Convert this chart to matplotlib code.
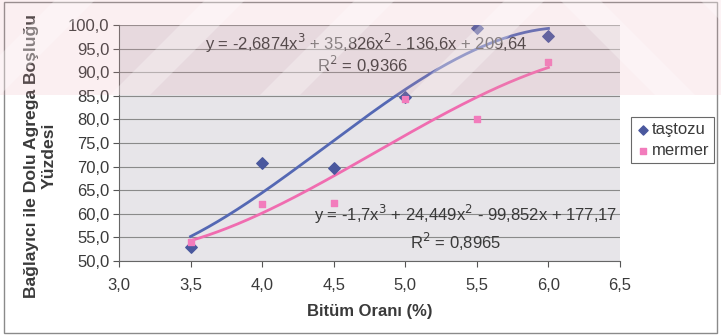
import numpy as np
import matplotlib
matplotlib.use("Agg")
import matplotlib.pyplot as plt
from matplotlib.patches import Polygon, Rectangle

plt.rcParams['font.family'] = ['Liberation Sans', 'DejaVu Sans']

# Measured values
bitum = [3.5, 4.0, 4.5, 5.0, 5.5, 6.0]
tastozu = [53.0, 70.8, 69.8, 84.7, 99.4, 97.7]
mermer = [54.1, 62.1, 62.2, 84.3, 80.1, 92.2]

# Cubic trend line coefficients (highest power first)
coef_tastozu = [-2.6874, 35.826, -136.6, 209.64]
coef_mermer = [-1.7, 24.449, -99.852, 177.17]
eq_tastozu = "y = -2,6874x$^3$ + 35,826x$^2$ - 136,6x + 209,64"
r2_tastozu = "R$^2$ = 0,9366"
eq_mermer = "y = -1,7x$^3$ + 24,449x$^2$ - 99,852x + 177,17"
r2_mermer = "R$^2$ = 0,8965"

x_ticks = [3.0, 3.5, 4.0, 4.5, 5.0, 5.5, 6.0, 6.5]
y_ticks = [50, 55, 60, 65, 70, 75, 80, 85, 90, 95, 100]

blue = '#5468b4'
blue_mk = '#4a589e'
pink = '#f06cb0'
pink_mk = '#f27cbc'
txt = '#3a3a3a'
fs = 12

fig = plt.figure(figsize=(7.21, 3.35), dpi=100)
fig.patch.set_facecolor('white')

ax = fig.add_axes([0.165, 0.221, 0.695, 0.704])
ax.set_facecolor('#e7e5e9')

ax.set_xlim(3.0, 6.5)
ax.set_ylim(50, 100)
ax.set_xticks(x_ticks)
ax.set_yticks(y_ticks)
ax.set_xticklabels([f"{v:.1f}".replace('.', ',') for v in x_ticks])
ax.set_yticklabels([f"{v:.1f}".replace('.', ',') for v in y_ticks])
ax.tick_params(axis='both', colors='#555555', labelcolor=txt, labelsize=fs,
               length=4, width=0.8, direction='out')
ax.tick_params(axis='x', pad=8)
ax.tick_params(axis='y', pad=3)
ax.grid(axis='y', color='#8a8a8a', linewidth=0.8)
ax.set_axisbelow(True)
for side in ['top', 'right']:
    ax.spines[side].set_visible(False)
for side in ['left', 'bottom']:
    ax.spines[side].set_color('#666666')
    ax.spines[side].set_linewidth(0.8)

# Trend lines over the data range
xs = np.linspace(min(bitum), max(bitum), 200)
ax.plot(xs, np.polyval(coef_tastozu, xs), color=blue, lw=2.0, zorder=3)
ax.plot(xs, np.polyval(coef_mermer, xs), color=pink, lw=2.0, zorder=3)

ax.scatter(bitum, tastozu, marker='D', s=34, color=blue_mk, zorder=4, label='taştozu')
ax.scatter(bitum, mermer, marker='s', s=22, color=pink_mk, zorder=4, label='mermer')

ax.text(4.726, 96.1, eq_tastozu, ha='center', va='center', fontsize=fs, color=txt, zorder=5)
ax.text(4.70, 91.6, r2_tastozu, ha='center', va='center', fontsize=fs, color=txt, zorder=5)
ax.text(5.42, 59.8, eq_mermer, ha='center', va='center', fontsize=fs, color=txt, zorder=5)
ax.text(5.35, 54.1, r2_mermer, ha='center', va='center', fontsize=fs, color=txt, zorder=5)

ax.set_xlabel("Bitüm Oranı (%)", fontsize=fs, fontweight='bold', color=txt, labelpad=8)
ax.set_ylabel("Bağlayıcı ile Dolu Agrega Boşluğu\nYüzdesi", fontsize=12.6,
              fontweight='bold', color=txt, linespacing=1.25)
ax.yaxis.set_label_coords(-0.124, 0.445)

leg = fig.legend(loc='upper left', bbox_to_anchor=(0.875, 0.65), frameon=True,
                 fancybox=False, edgecolor='#444444', fontsize=fs,
                 handletextpad=0.05, borderpad=0.3, labelspacing=0.35,
                 handlelength=0.9, markerscale=0.8, borderaxespad=0)
leg.get_frame().set_linewidth(0.8)
for t in leg.get_texts():
    t.set_color(txt)

# Outer chart frame
fig.add_artist(Rectangle((0.006, 0.006), 0.988, 0.988, transform=fig.transFigure,
                         fill=False, edgecolor='#8a8a8a', lw=1.0))

# Faint diagonal watermark band across the top
W, H = 721.0, 335.0
band_top, band_bot = 0, 95
fig.add_artist(Rectangle((0, 1 - band_bot / H), 1, band_bot / H, transform=fig.transFigure,
                         facecolor='#e8a0aa', alpha=0.16, edgecolor='none', zorder=10))
stripes = [(-40, 'r'), (110, 'r'), (260, 'r'), (410, 'r'), (560, 'l'), (700, 'l')]
for x0, d in stripes:
    w = 40
    if d == 'r':
        pts = [(x0, band_bot), (x0 + w, band_bot), (x0 + w + 95, band_top), (x0 + 95, band_top)]
    else:
        pts = [(x0, band_top), (x0 + w, band_top), (x0 + w + 95, band_bot), (x0 + 95, band_bot)]
    pts = [(px / W, 1 - py / H) for px, py in pts]
    fig.add_artist(Polygon(pts, closed=True, transform=fig.transFigure,
                           facecolor='white', alpha=0.3, edgecolor='none', zorder=11))

fig.savefig('out.png', dpi=100)
